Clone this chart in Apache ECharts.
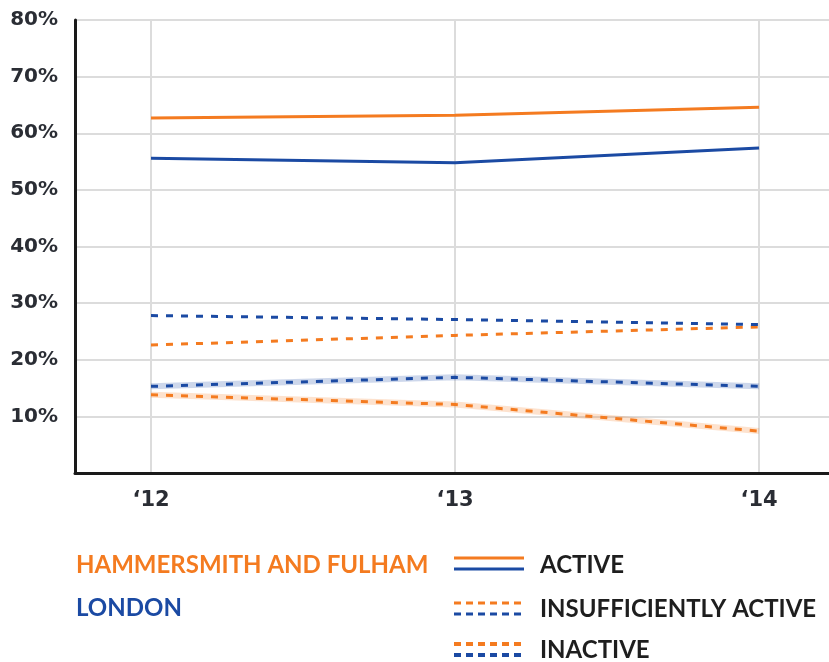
<!DOCTYPE html>
<html>
<head>
<meta charset="utf-8">
<script src="https://cdn.jsdelivr.net/npm/echarts@6/dist/echarts.min.js"></script>
<style>
html,body{margin:0;padding:0;background:#fff;}
#chart{width:829px;height:662px;}
</style>
</head>
<body>
<div id="chart"></div>
<script>
const years = [2012, 2013, 2014];
const yTicks = [10, 20, 30, 40, 50, 60, 70, 80];
const hfActive = [62.7, 63.2, 64.6];
const lonActive = [55.6, 54.8, 57.4];
const lonInsufficient = [27.8, 27.1, 26.2];
const hfInsufficient = [22.6, 24.3, 25.8];
const lonInactive = [15.3, 16.9, 15.3];
const hfInactive = [13.8, 12.1, 7.4];

const ORANGE = '#f47b20';
const BLUE = '#1b4aa3';
const TEXT = '#2a2d34';
const FONT = 'Lato';
const AXFONT = '"DejaVu Sans"';

function pts(arr){ return years.map((y,i)=>[y, arr[i]]); }

function mk(name, arr, color, type, width, z, opacity){
  return {
    name: name, type: 'line', data: pts(arr), symbol: 'none', silent: true, z: z,
    lineStyle: {color: color, width: width, type: type, opacity: opacity == null ? 1 : opacity, cap: 'butt'}
  };
}

const chart = echarts.init(document.getElementById('chart'), null, {renderer: 'canvas'});
const option = {
  animation: false,
  grid: {left: 75, right: 0, top: 20, bottom: 189, containLabel: false},
  xAxis: {
    type: 'value', min: 2011.75, max: 2014.23,
    axisLine: {show: true, onZero: false, lineStyle: {color: '#1a1a1a', width: 3}},
    axisTick: {show: false, customValues: years},
    axisLabel: {
      customValues: years, margin: 17,
      formatter: v => '\u2018' + String(v).slice(2),
      color: TEXT, fontFamily: AXFONT, fontWeight: 'bold', fontSize: 21
    },
    splitLine: {show: true, lineStyle: {color: '#dcdcdc', width: 2}}
  },
  yAxis: {
    type: 'value', min: 0, max: 80, interval: 10,
    axisLine: {show: true, lineStyle: {color: '#1a1a1a', width: 3}},
    axisTick: {show: false},
    axisLabel: {
      margin: 17,
      formatter: v => (yTicks.indexOf(v) >= 0 ? v + '%' : ''),
      color: TEXT, fontFamily: AXFONT, fontWeight: 'bold', fontSize: 20
    },
    splitLine: {show: true, lineStyle: {color: '#dcdcdc', width: 2}}
  },
  series: [
    mk('H&F inactive halo', hfInactive, ORANGE, 'solid', 6, 2, 0.22),
    mk('London inactive halo', lonInactive, BLUE, 'solid', 6, 2, 0.22),
    mk('H&F inactive', hfInactive, ORANGE, [7, 8], 3, 3),
    mk('London inactive', lonInactive, BLUE, [7, 8], 3, 3),
    mk('H&F insufficiently active', hfInsufficient, ORANGE, [7, 8], 3, 3),
    mk('London insufficiently active', lonInsufficient, BLUE, [7, 8], 3, 3),
    mk('H&F active', hfActive, ORANGE, 'solid', 3, 3),
    mk('London active', lonActive, BLUE, 'solid', 3, 3)
  ],
  graphic: [
    {type: 'text', left: 76, top: 553, style: {text: 'HAMMERSMITH AND FULHAM', fill: ORANGE, font: 'bold 24px ' + FONT}},
    {type: 'text', left: 76, top: 596, style: {text: 'LONDON', fill: BLUE, font: 'bold 24px ' + FONT}},
    {type: 'line', shape: {x1: 454, y1: 558, x2: 524, y2: 558}, style: {stroke: ORANGE, lineWidth: 3}},
    {type: 'line', shape: {x1: 454, y1: 569, x2: 524, y2: 569}, style: {stroke: BLUE, lineWidth: 3}},
    {type: 'line', shape: {x1: 454, y1: 603, x2: 524, y2: 603}, style: {stroke: ORANGE, lineWidth: 3, lineDash: [7, 5]}},
    {type: 'line', shape: {x1: 454, y1: 614, x2: 524, y2: 614}, style: {stroke: BLUE, lineWidth: 3, lineDash: [7, 5]}},
    {type: 'line', shape: {x1: 454, y1: 644, x2: 524, y2: 644}, style: {stroke: ORANGE, lineWidth: 4, lineDash: [7, 5]}},
    {type: 'line', shape: {x1: 454, y1: 655, x2: 524, y2: 655}, style: {stroke: BLUE, lineWidth: 4, lineDash: [7, 5]}},
    {type: 'text', left: 540, top: 553, style: {text: 'ACTIVE', fill: '#1e1e1e', font: 'bold 24px ' + FONT}},
    {type: 'text', left: 540, top: 597, style: {text: 'INSUFFICIENTLY ACTIVE', fill: '#1e1e1e', font: 'bold 24px ' + FONT}},
    {type: 'text', left: 540, top: 638, style: {text: 'INACTIVE', fill: '#1e1e1e', font: 'bold 24px ' + FONT}}
  ]
};
chart.setOption(option);
</script>
</body>
</html>
